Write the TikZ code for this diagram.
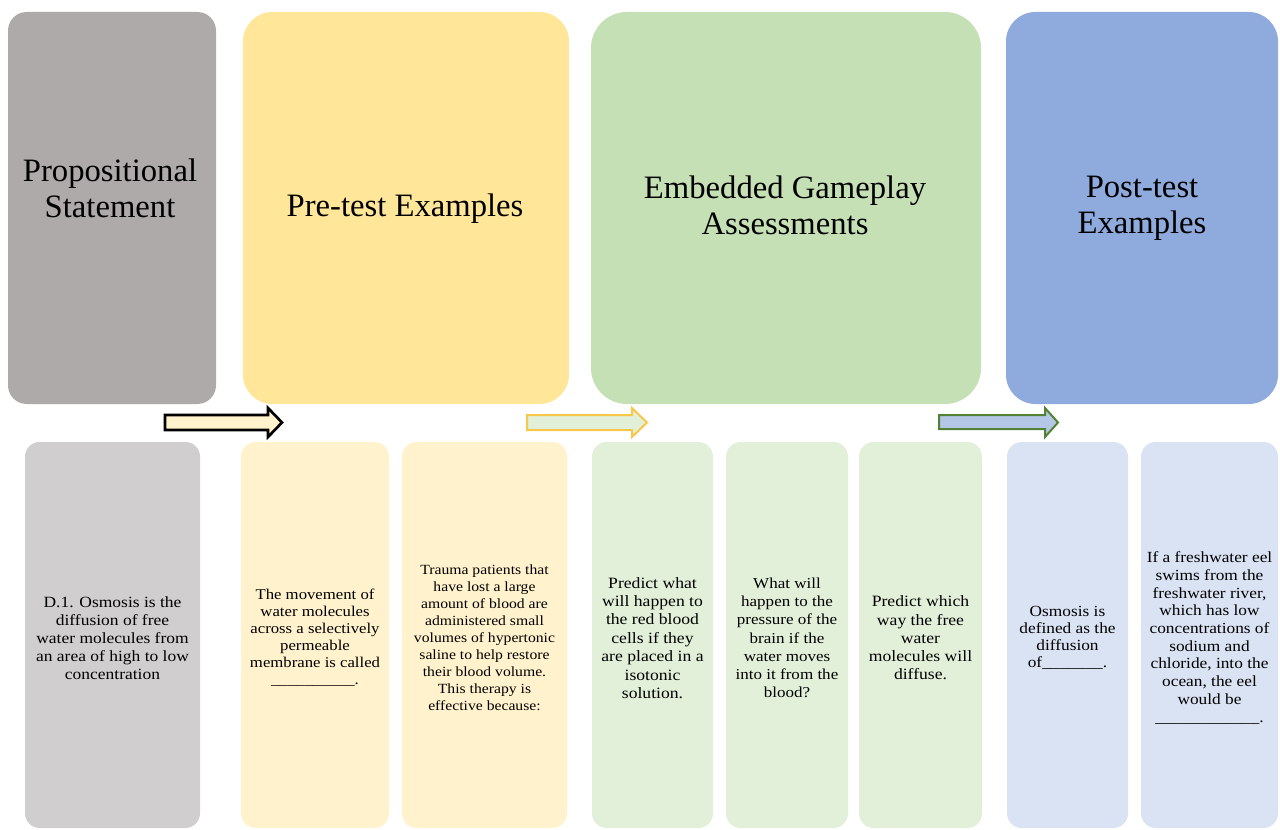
\documentclass[tikz,border=0pt]{standalone}
\usepackage{fontspec}
\setmainfont{Liberation Serif}
\newfontfamily\cardfont[FakeStretch=1.12]{Liberation Serif}
\usetikzlibrary{fit}

\definecolor{grayTop}{HTML}{AEAAAA}
\definecolor{goldTop}{HTML}{FFE699}
\definecolor{greenTop}{HTML}{C5E0B4}
\definecolor{blueTop}{HTML}{8FAADC}
\definecolor{grayCard}{HTML}{D0CECE}
\definecolor{goldCard}{HTML}{FFF2CC}
\definecolor{greenCard}{HTML}{E2F0D9}
\definecolor{blueCard}{HTML}{DAE3F3}
\definecolor{blueArrow}{HTML}{B4C7E7}
\definecolor{goldLine}{HTML}{F9C74A}
\definecolor{greenLine}{HTML}{548235}

\tikzset{
  panel/.style={draw=none, inner sep=0pt, outer sep=0pt},
  card/.style={panel, rounded corners=11pt},
  cardtext/.style={align=center, inner sep=0pt, text=black},
  headtext/.style={align=center, inner sep=0pt, text=black,
                   font=\fontsize{24.5}{27}\selectfont},
  cardsize/.style 2 args={font=\cardfont\fontsize{#1}{#2}\selectfont},
  blockarrow/.style={line width=1.5pt, line join=miter},
}

\begin{document}
\begin{tikzpicture}[x=0.75pt, y=-0.75pt]
\useasboundingbox (0,0) rectangle (1280,830);

% stage headers
\node[panel, fill=grayTop,  rounded corners=14pt, fit={(8,12)(216,404)}]    (prop) {};
\node[panel, fill=goldTop,  rounded corners=22pt, fit={(243,12)(569,404)}]  (pre)  {};
\node[panel, fill=greenTop, rounded corners=27pt, fit={(591,12)(981,404)}]  (emb)  {};
\node[panel, fill=blueTop,  rounded corners=22pt, fit={(1006,12)(1278,404)}] (post) {};

\node[headtext] (propT) at (110,188)  {Propositional\\Statement};
\node[headtext] (preT)  at (405,209)  {Pre-test Examples};
\node[headtext] (embT)  at (785,205)  {Embedded Gameplay\\Assessments};
\node[headtext] (postT) at (1142,208.5) {Post-test\\Examples};

% block arrows between the two rows
\draw[blockarrow, line width=2pt, draw=black, fill=goldCard]
  (165,415) -- (268,415) -- (268,408) -- (282,422.5) -- (268,437) -- (268,430) -- (165,430) -- cycle;
\draw[blockarrow, draw=goldLine, fill=greenCard]
  (527,415) -- (632,415) -- (632,408) -- (647,422.5) -- (632,437) -- (632,430) -- (527,430) -- cycle;
\draw[blockarrow, draw=greenLine, fill=blueArrow]
  (939,415) -- (1045,415) -- (1045,408) -- (1058,422.5) -- (1045,437) -- (1045,429) -- (939,429) -- cycle;

% example cards
\node[card, fill=grayCard,  fit={(25,442)(200,828)}]   (c1) {};
\node[card, fill=goldCard,  fit={(241,442)(389,828)}]  (c2) {};
\node[card, fill=goldCard,  fit={(402,442)(567,828)}]  (c3) {};
\node[card, fill=greenCard, fit={(592,442)(713,828)}]  (c4) {};
\node[card, fill=greenCard, fit={(726,442)(848,828)}]  (c5) {};
\node[card, fill=greenCard, fit={(859,442)(982,828)}]  (c6) {};
\node[card, fill=blueCard,  fit={(1007,442)(1128,828)}] (c7) {};
\node[card, fill=blueCard,  fit={(1141,442)(1278,828)}] (c8) {};

% card texts
\tikzset{cardshift/.style={yshift=-2.2pt}}
\node[cardtext, cardsize={11.7}{13.4}] (t1) at ([cardshift]c1.center)
  {D.1. Osmosis is the\\diffusion of free\\water molecules from\\an area of high to low\\concentration};
\node[cardtext, cardsize={11.2}{12.8}] (t2) at ([cardshift]c2.center)
  {The movement of\\water molecules\\across a selectively\\permeable\\membrane is called\\\_\_\_\_\_\_\_\_\_\_.};
\node[cardtext, cardsize={10.5}{12.7}] (t3) at ([cardshift]c3.center)
  {Trauma patients that\\have lost a large\\amount of blood are\\administered small\\volumes of hypertonic\\saline to help restore\\their blood volume.\\This therapy is\\effective because:};
\node[cardtext, cardsize={11.8}{13.8}] (t4) at ([cardshift]c4.center)
  {Predict what\\will happen to\\the red blood\\cells if they\\are placed in a\\isotonic\\solution.};
\node[cardtext, cardsize={11.4}{13.7}] (t5) at ([cardshift]c5.center)
  {What will\\happen to the\\pressure of the\\brain if the\\water moves\\into it from the\\blood?};
\node[cardtext, cardsize={11.8}{13.7}] (t6) at ([cardshift]c6.center)
  {Predict which\\way the free\\water\\molecules will\\diffuse.};
\node[cardtext, cardsize={11.6}{12.9}] (t7) at ([cardshift]c7.center)
  {Osmosis is\\defined as the\\diffusion\\of\_\_\_\_\_\_\_.};
\node[cardtext, cardsize={11.6}{13.3}] (t8) at ([cardshift]c8.center)
  {If a freshwater eel\\swims from the\\freshwater river,\\which has low\\concentrations of\\sodium and\\chloride, into the\\ocean, the eel\\would be\\\_\_\_\_\_\_\_\_\_\_\_\_.};
\end{tikzpicture}
\end{document}
